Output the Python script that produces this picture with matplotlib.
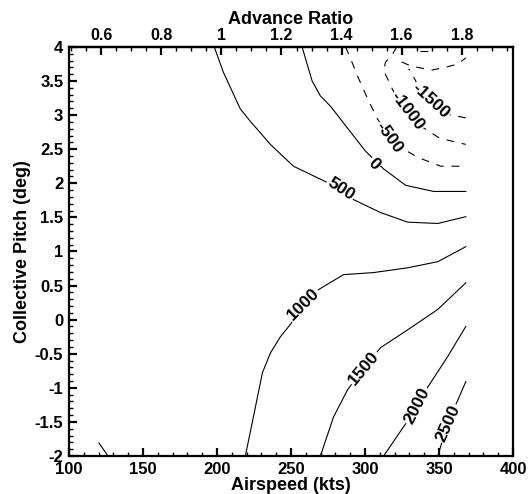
import numpy as np
import matplotlib
matplotlib.use('Agg')
import matplotlib.pyplot as plt
from matplotlib.ticker import MultipleLocator, FuncFormatter

plt.rcParams['font.family'] = ['Liberation Sans', 'DejaVu Sans']
plt.rcParams['font.weight'] = 'bold'
plt.rcParams['axes.unicode_minus'] = False

# linhas de contorno: velocidade (kts) x passo coletivo (deg)
c_neg2000_v = [324.8, 330.9, 345.1, 355.9, 362.7, 368.1]
c_neg2000_p = [3.78, 3.72, 3.66, 3.71, 3.75, 3.84]
c_neg2000b_v = [337.0, 347.2]
c_neg2000b_p = [3.94, 3.94]
c_neg1500_v = [368.1, 358.0, 351.2, 343.7, 336.3, 333.6, 329.5]
c_neg1500_p = [2.96, 3.00, 3.06, 3.21, 3.41, 3.53, 3.68]
c_neg1000_v = [321.4, 318.0, 313.9, 312.6, 316.0, 320.0, 328.8, 339.0, 350.5, 368.1]
c_neg1000_p = [4.00, 3.87, 3.78, 3.65, 3.50, 3.31, 3.06, 2.82, 2.66, 2.57]
c_neg500_v = [286.9, 291.7, 295.0, 301.8, 308.5, 320.7, 335.6, 351.2, 368.1]
c_neg500_p = [4.00, 3.75, 3.57, 3.24, 2.94, 2.57, 2.38, 2.25, 2.25]
c_0_v = [257.5, 264.3, 269.9, 276.7, 290.3, 300.4, 312.6, 327.5, 346.4, 368.1]
c_0_p = [4.00, 3.50, 3.28, 3.13, 2.75, 2.47, 2.21, 1.97, 1.88, 1.88]
c_500_v = [198.2, 204.3, 215.8, 222.5, 236.1, 251.7, 274.7, 292.3, 310.6, 328.8, 349.2, 368.1]
c_500_p = [4.00, 3.63, 3.09, 2.91, 2.57, 2.25, 2.01, 1.76, 1.57, 1.43, 1.41, 1.51]
c_1000_v = [219.2, 224.6, 230.7, 236.1, 242.9, 249.6, 258.4, 268.6, 285.5, 305.8, 328.8, 349.2, 368.1]
c_1000_p = [-2.0, -1.43, -0.78, -0.49, -0.25, -0.07, 0.22, 0.44, 0.66, 0.69, 0.76, 0.85, 1.07]
c_1500_v = [269.9, 278.7, 288.2, 299.1, 310.6, 328.8, 349.2, 368.1]
c_1500_p = [-2.0, -1.43, -1.03, -0.71, -0.41, -0.15, 0.15, 0.54]
c_2000_v = [312.6, 326.1, 335.6, 342.4, 355.9, 368.1]
c_2000_p = [-2.0, -1.57, -1.28, -0.99, -0.54, -0.10]
c_2500_v = [349.2, 355.9, 362.7, 368.1]
c_2500_p = [-2.0, -1.51, -1.18, -0.91]
c_canto_v = [120.3, 126.4]
c_canto_p = [-1.81, -2.0]

linhas = [
    (c_neg2000_v, c_neg2000_p, True),
    (c_neg2000b_v, c_neg2000b_p, True),
    (c_neg1500_v, c_neg1500_p, True),
    (c_neg1000_v, c_neg1000_p, True),
    (c_neg500_v, c_neg500_p, True),
    (c_0_v, c_0_p, False),
    (c_500_v, c_500_p, False),
    (c_1000_v, c_1000_p, False),
    (c_1500_v, c_1500_p, False),
    (c_2000_v, c_2000_p, False),
    (c_2500_v, c_2500_p, False),
    (c_canto_v, c_canto_p, False),
]

# rotulos dos contornos
rotulos = ['-1500', '-1000', '-500', '0', '500', '1000', '1500', '2000', '2500']
rotulos_v = [344.4, 328.6, 316.2, 306.0, 283.5, 258.6, 299.3, 335.4, 356.1]
rotulos_p = [3.21, 3.06, 2.67, 2.28, 1.91, 0.22, -0.71, -1.27, -1.52]
rotulos_linha = [2, 3, 4, 5, 6, 7, 8, 9, 10]

# razao de avanco: mu = V / 203
v_por_mu = 203.0


def angulo(ax, xs, ys, xl, yl):
    pts = ax.transData.transform(np.column_stack([xs, ys]))
    p = ax.transData.transform((xl, yl))
    meios = (pts[:-1] + pts[1:]) / 2
    i = np.argmin(np.hypot(meios[:, 0] - p[0], meios[:, 1] - p[1]))
    dx, dy = pts[i + 1] - pts[i]
    ang = np.degrees(np.arctan2(dy, dx))
    if ang > 90:
        ang -= 180
    if ang < -90:
        ang += 180
    return ang


def fmt(v, pos):
    s = ('%.2f' % v).rstrip('0').rstrip('.')
    return '0' if s == '-0' else s


fig = plt.figure(figsize=(5.3, 4.94), dpi=100)
ax = fig.add_axes([0.130, 0.077, 0.838, 0.828])
ax.set_xlim(100, 400)
ax.set_ylim(-2, 4)

for xs, ys, tracejada in linhas:
    if tracejada:
        ax.plot(xs, ys, color='black', lw=0.8, linestyle=(0, (7, 7)))
    else:
        ax.plot(xs, ys, color='black', lw=0.8)

for texto, xl, yl, k in zip(rotulos, rotulos_v, rotulos_p, rotulos_linha):
    xs, ys, _ = linhas[k]
    rot = angulo(ax, xs, ys, xl, yl)
    ax.text(xl, yl, texto, rotation=rot, rotation_mode='anchor',
            ha='center', va='center', fontsize=12.5, fontweight='bold',
            bbox=dict(facecolor='white', edgecolor='none', pad=0.8))

ax.xaxis.set_major_locator(MultipleLocator(50))
ax.xaxis.set_minor_locator(MultipleLocator(10))
ax.yaxis.set_major_locator(MultipleLocator(0.5))
ax.yaxis.set_minor_locator(MultipleLocator(0.1))
ax.yaxis.set_major_formatter(FuncFormatter(fmt))
ax.tick_params(which='both', direction='in', top=False, right=False,
               labelsize=12)
ax.tick_params(which='major', length=6, width=1.6)
ax.tick_params(which='minor', length=3, width=1.0)
ax.tick_params(axis='x', pad=4)
ax.tick_params(axis='y', pad=4)
for s in ax.spines.values():
    s.set_linewidth(1.6)

ax.set_xlabel('Airspeed (kts)', fontsize=13, fontweight='bold', labelpad=0)
ax.set_ylabel('Collective Pitch (deg)', fontsize=13, fontweight='bold', labelpad=3)

topo = ax.secondary_xaxis('top', functions=(lambda v: v / v_por_mu,
                                            lambda m: m * v_por_mu))
topo.xaxis.set_major_locator(MultipleLocator(0.2))
topo.xaxis.set_minor_locator(MultipleLocator(0.05))
topo.xaxis.set_major_formatter(FuncFormatter(fmt))
topo.tick_params(which='both', direction='in', labelsize=11.5, pad=2.5)
topo.tick_params(which='major', length=6, width=1.6)
topo.tick_params(which='minor', length=3, width=1.0)
topo.set_xlabel('Advance Ratio', fontsize=13, fontweight='bold', labelpad=3)
topo.spines['top'].set_linewidth(1.6)

fig.savefig('out.png', dpi=100)
